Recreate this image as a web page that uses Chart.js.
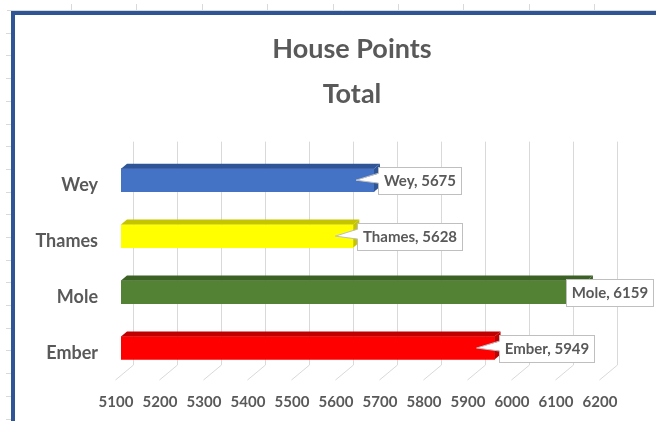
<!DOCTYPE html>
<html>
<head>
<meta charset="utf-8">
<script src="https://cdn.jsdelivr.net/npm/chart.js@4.4.1/dist/chart.umd.min.js"></script>
<style>
html,body{margin:0;padding:0;background:#fff;overflow:hidden}
#wrap{position:relative;width:656px;height:421px;overflow:hidden}
canvas{display:block}
</style>
</head>
<body>
<div id="wrap"><canvas id="c" width="680" height="421"></canvas></div>
<script>
// ---- data ----
const titleLines = ['House Points', 'Total'];
const houses = ['Wey', 'Thames', 'Mole', 'Ember'];
const points = [5675, 5628, 6159, 5949];
const frontColors = ['#4472c4', '#ffff00', '#548235', '#ff0000'];
const topColors = ['#2f5597', '#c4c400', '#3b6125', '#c00000'];
const xTickLabels = ['5100','5200','5300','5400','5500','5600','5700','5800','5900','6000','6100','6200'];
const xMin = 5100, xMax = 6200, xStep = 100;

const FONT = 'Lato, "Open Sans", sans-serif';
const TEXT = '#595959';
const VIEW_W = 656;

// spreadsheet frame decoration
const sheetFrame = {
  id: 'sheetFrame',
  beforeDraw(chart) {
    const ctx = chart.ctx, W = chart.width, H = chart.height;
    ctx.save();
    ctx.fillStyle = '#ffffff';
    ctx.fillRect(0, 0, W, H);
    ctx.strokeStyle = '#d9d9d9';
    ctx.lineWidth = 1;
    ctx.beginPath();
    ctx.moveTo(7, 10.5); ctx.lineTo(W, 10.5);
    for (let x = 71; x < W; x += 65.4) { const px = Math.round(x) + 0.5; ctx.moveTo(px, 4); ctx.lineTo(px, 10); }
    for (let y = 32.7; y < H; y += 22.7) { const py = Math.round(y) + 0.5; ctx.moveTo(6, py); ctx.lineTo(11, py); }
    ctx.stroke();
    ctx.fillStyle = '#2f5597';
    ctx.fillRect(11, 11, 4, H - 11);
    ctx.fillRect(11, 11, W - 11, 4);
    ctx.restore();
  }
};

// 3D back-wall gridlines and floor
const grid3d = {
  id: 'grid3d',
  beforeDatasetsDraw(chart) {
    const ctx = chart.ctx, xs = chart.scales.x, a = chart.chartArea;
    ctx.save();
    ctx.strokeStyle = '#d9d9d9';
    ctx.lineWidth = 1;
    ctx.beginPath();
    xs.ticks.forEach(t => {
      const px = Math.round(xs.getPixelForValue(t.value) + 12) + 0.5;
      ctx.moveTo(px, a.top - 10.5);
      ctx.lineTo(px, a.bottom - 11);
      ctx.lineTo(px - 18, a.bottom + 4);
    });
    ctx.stroke();
    ctx.restore();
  }
};

// 3D top and side faces of bars
const bar3d = {
  id: 'bar3d',
  afterDatasetsDraw(chart) {
    const ctx = chart.ctx, a = chart.chartArea;
    const meta = chart.getDatasetMeta(0);
    const dx = 6, dy = 5;
    ctx.save();
    meta.data.forEach((el, i) => {
      const p = el.getProps(['x', 'y', 'base', 'height'], true);
      const b = Math.max(p.base, a.left);
      const top = p.y - p.height / 2, bot = p.y + p.height / 2;
      ctx.fillStyle = topColors[i];
      ctx.beginPath();
      ctx.moveTo(b, top);
      ctx.lineTo(b + dx, top - dy);
      ctx.lineTo(p.x + dx, top - dy);
      ctx.lineTo(p.x, top);
      ctx.closePath();
      ctx.fill();
      ctx.beginPath();
      ctx.moveTo(p.x, top);
      ctx.lineTo(p.x + dx, top - dy);
      ctx.lineTo(p.x + dx, bot - dy);
      ctx.lineTo(p.x, bot);
      ctx.closePath();
      ctx.fill();
    });
    ctx.restore();
  }
};

// callout data labels
const callouts = {
  id: 'callouts',
  afterDatasetsDraw(chart) {
    const ctx = chart.ctx;
    const meta = chart.getDatasetMeta(0);
    ctx.save();
    ctx.font = 'bold 15px ' + FONT;
    meta.data.forEach((el, i) => {
      const p = el.getProps(['x', 'y'], true);
      const txt = houses[i] + ', ' + points[i];
      const w = Math.round(ctx.measureText(txt).width + 11);
      const h = 27;
      const left = Math.round(Math.min(p.x + 4, VIEW_W - 3 - w)) + 0.5;
      const top = Math.round(p.y - h / 2) + 0.5;
      ctx.fillStyle = '#ffffff';
      ctx.strokeStyle = '#bfbfbf';
      ctx.lineWidth = 1;
      ctx.fillRect(left, top, w, h);
      ctx.strokeRect(left, top, w, h);
      const tipX = p.x - 18;
      if (tipX < left - 4) {
        ctx.beginPath();
        ctx.moveTo(left + 1.5, p.y - 7);
        ctx.lineTo(tipX, p.y);
        ctx.lineTo(left + 1.5, p.y + 3);
        ctx.closePath();
        ctx.fill();
        ctx.beginPath();
        ctx.moveTo(left, p.y - 7);
        ctx.lineTo(tipX, p.y);
        ctx.lineTo(left, p.y + 3);
        ctx.stroke();
      }
      ctx.fillStyle = TEXT;
      ctx.textAlign = 'center';
      ctx.textBaseline = 'middle';
      ctx.fillText(txt, left + w / 2, p.y + 1);
    });
    ctx.restore();
  }
};

new Chart(document.getElementById('c'), {
  type: 'bar',
  data: {
    labels: houses,
    datasets: [{
      data: points,
      backgroundColor: frontColors,
      borderWidth: 0,
      barThickness: 23
    }]
  },
  options: {
    indexAxis: 'y',
    responsive: false,
    animation: false,
    devicePixelRatio: 1,
    layout: { padding: { left: 24, right: 0, top: 0, bottom: 0 } },
    plugins: {
      legend: { display: false },
      tooltip: { enabled: false },
      title: {
        display: true,
        text: titleLines,
        color: TEXT,
        font: { family: FONT, size: 27, weight: 'bold', lineHeight: 1.67 },
        padding: { top: 27, bottom: 35 }
      }
    },
    scales: {
      x: {
        type: 'linear',
        min: xMin,
        max: xMax,
        grid: { display: false, drawTicks: false },
        border: { display: false },
        ticks: {
          stepSize: xStep,
          padding: 17,
          labelOffset: -5,
          color: TEXT,
          font: { family: FONT, size: 15, weight: 'bold' },
          callback: (v, i) => xTickLabels[i]
        },
        afterFit: s => { s.height = 45; }
      },
      y: {
        grid: { display: false, drawTicks: false },
        border: { display: false },
        ticks: {
          padding: 23,
          labelOffset: 5,
          color: TEXT,
          font: { family: FONT, size: 18, weight: 'bold' }
        },
        afterFit: s => { s.width = 97; }
      },
      yRight: {
        type: 'category',
        labels: houses,
        position: 'right',
        grid: { display: false, drawTicks: false },
        border: { display: false },
        ticks: { display: false },
        afterFit: s => { s.width = 75; }
      }
    }
  },
  plugins: [sheetFrame, grid3d, bar3d, callouts]
});
</script>
</body>
</html>
